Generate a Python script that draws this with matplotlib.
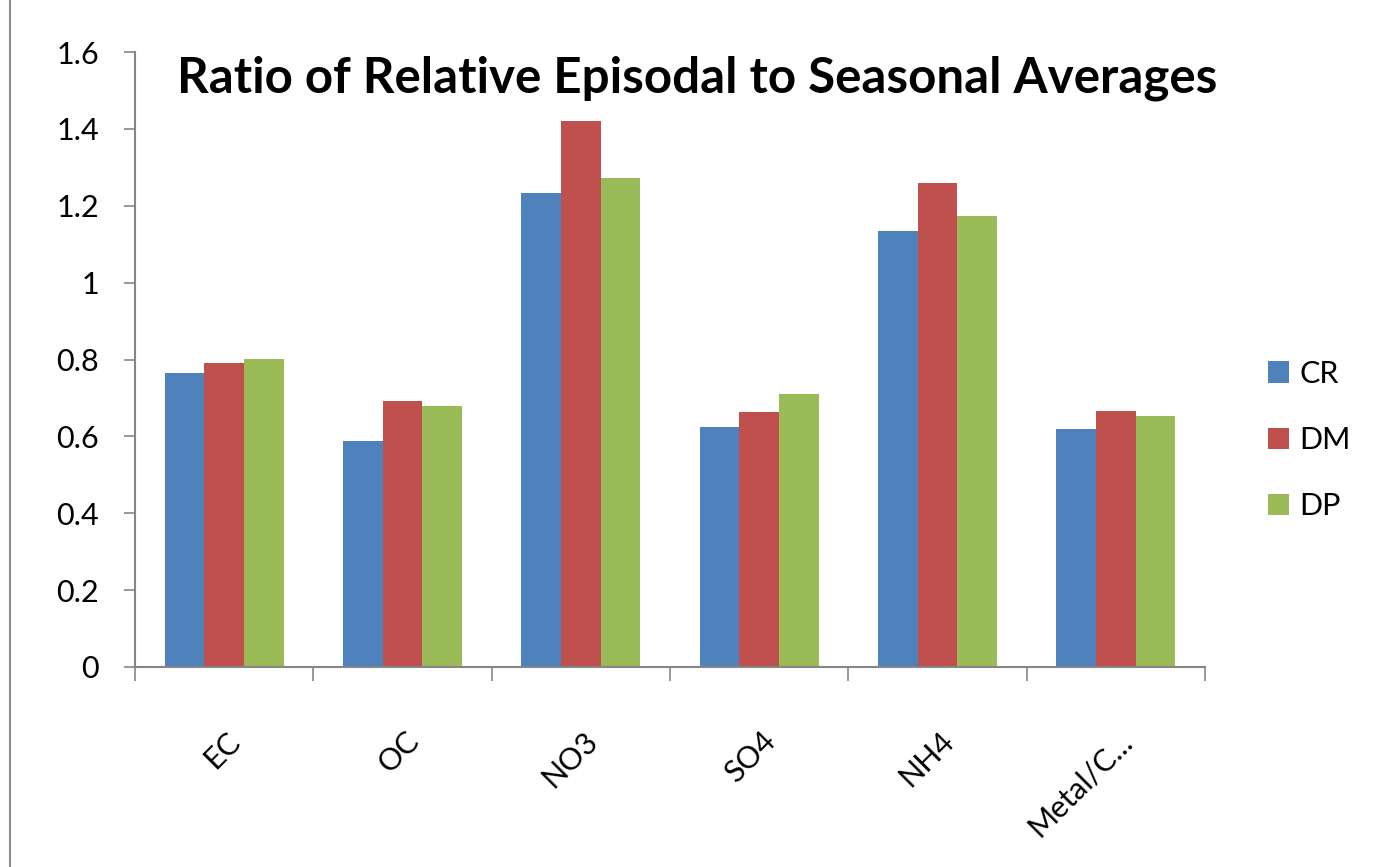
import matplotlib
matplotlib.use('Agg')
import matplotlib.pyplot as plt
import matplotlib.transforms as mtransforms
from matplotlib.patches import Rectangle
import numpy as np

TITLE = 'Ratio of Relative Episodal to Seasonal Averages'

categories = ['EC', 'OC', 'NO3', 'SO4', 'NH4', 'Metal/C...']
series_names = ['CR', 'DM', 'DP']
cr_values = [0.764, 0.588, 1.232, 0.624, 1.135, 0.619]
dm_values = [0.790, 0.692, 1.421, 0.664, 1.258, 0.666]
dp_values = [0.802, 0.679, 1.271, 0.710, 1.173, 0.653]
y_ticks = [0, 0.2, 0.4, 0.6, 0.8, 1, 1.2, 1.4, 1.6]
y_tick_labels = ['0', '0.2', '0.4', '0.6', '0.8', '1', '1.2', '1.4', '1.6']

colors = ['#4F81BD', '#C0504D', '#9BBB59']
axis_gray = '#868686'

plt.rcParams['font.family'] = ['Lato', 'DejaVu Sans']

fig = plt.figure(figsize=(13.77, 8.67), dpi=100)
ax = fig.add_axes([135 / 1377, 1 - 667 / 867, (1205 - 135) / 1377, (667 - 52) / 867])

# excel style: gap width 150% -> each bar is 1/4.5 of a category
x = np.arange(len(categories))
bar_w = 1 / 4.5
bars = []
for i, vals in enumerate([cr_values, dm_values, dp_values]):
    b = ax.bar(x + (i - 1) * bar_w, vals, width=bar_w, color=colors[i],
               label=series_names[i], linewidth=0)
    bars.append(b)

ax.set_xlim(-0.5, len(categories) - 0.5)
ax.set_ylim(0, 1.6)

ax.set_yticks(y_ticks)
ax.set_yticklabels(y_tick_labels)
ax.tick_params(axis='y', direction='out', length=8, width=1.2, color=axis_gray,
               pad=18, labelsize=22)

# x ticks: marks on category boundaries, labels at centres
ax.set_xticks(x)
ax.set_xticks(np.arange(len(categories) + 1) - 0.5, minor=True)
ax.set_xticklabels(categories, rotation=45, ha='right', va='center',
                   rotation_mode='anchor')
ax.tick_params(axis='x', which='major', length=0, pad=50, labelsize=22)
ax.tick_params(axis='x', which='minor', direction='out', length=10, width=1.2,
               color=axis_gray)
shift = mtransforms.ScaledTranslation(12 / 100, 0, fig.dpi_scale_trans)
for lab in ax.get_xticklabels():
    lab.set_transform(lab.get_transform() + shift)

for side in ['top', 'right']:
    ax.spines[side].set_visible(False)
for side in ['left', 'bottom']:
    ax.spines[side].set_color(axis_gray)
    ax.spines[side].set_linewidth(1.5)

fig.text(697 / 1377, 1 - 78 / 867, TITLE, ha='center', va='center',
         fontsize=35.5, fontweight='bold')

leg = ax.legend(handles=bars, loc='center left',
                bbox_to_anchor=(1240 / 1377, 1 - 440 / 867),
                bbox_transform=fig.transFigure, frameon=False, fontsize=22,
                handlelength=0.7, handleheight=0.7, handletextpad=0.35,
                labelspacing=1.25)

# chart area border (only the left edge shows in the crop)
fig.patches.append(Rectangle((10 / 1377, -0.05), 1.1, 1.1,
                             transform=fig.transFigure, fill=False,
                             edgecolor='#8c8c8c', linewidth=1.5))

fig.savefig('out.png', dpi=100, facecolor='white')
